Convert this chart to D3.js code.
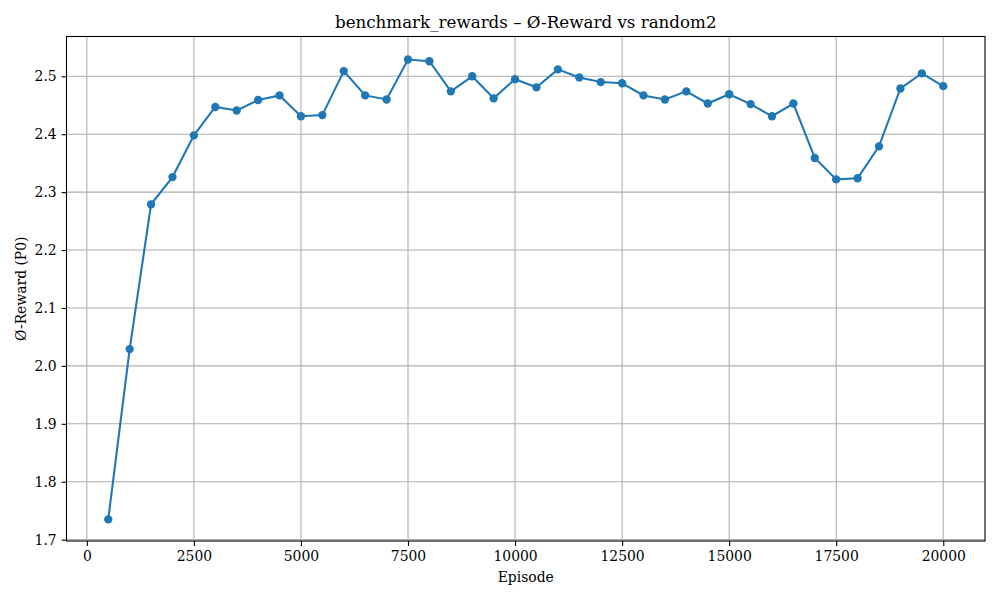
<!DOCTYPE html>
<html>
<head>
<meta charset="utf-8">
<script src="https://cdn.jsdelivr.net/npm/d3@7"></script>
<style>
  body { margin: 0; background: #fff; }
  text { font-family: "DejaVu Serif", serif; fill: #000; }
</style>
</head>
<body>
<svg id="chart" width="1000" height="600"></svg>
<script>
// data
var episodes = [500, 1000, 1500, 2000, 2500, 3000, 3500, 4000, 4500, 5000,
  5500, 6000, 6500, 7000, 7500, 8000, 8500, 9000, 9500, 10000,
  10500, 11000, 11500, 12000, 12500, 13000, 13500, 14000, 14500, 15000,
  15500, 16000, 16500, 17000, 17500, 18000, 18500, 19000, 19500, 20000];
var rewards = [1.735, 2.029, 2.279, 2.326, 2.398, 2.447, 2.441, 2.459, 2.467, 2.431,
  2.433, 2.509, 2.467, 2.460, 2.529, 2.526, 2.474, 2.500, 2.462, 2.495,
  2.481, 2.512, 2.498, 2.490, 2.488, 2.467, 2.460, 2.474, 2.453, 2.469,
  2.452, 2.431, 2.453, 2.359, 2.322, 2.324, 2.379, 2.479, 2.505, 2.483];
var xTicks = [0, 2500, 5000, 7500, 10000, 12500, 15000, 17500, 20000];
var yTicks = [1.7, 1.8, 1.9, 2.0, 2.1, 2.2, 2.3, 2.4, 2.5];

var data = episodes.map(function (e, i) { return { ep: e, r: rewards[i] }; });

var margin = { top: 36.5, right: 15, bottom: 59, left: 66.5 },
  width = 1000 - margin.left - margin.right,
  height = 600 - margin.top - margin.bottom;

var svg = d3.select("#chart")
  .append("g")
  .attr("transform", "translate(" + margin.left + "," + margin.top + ")");

// matplotlib-style 5% padding on x; y limits as in the picture
var xe = d3.extent(episodes), ye = d3.extent(rewards);
var xp = (xe[1] - xe[0]) * 0.05;

var x = d3.scaleLinear().domain([xe[0] - xp, xe[1] + xp]).range([0, width]);
var y = d3.scaleLinear().domain([1.6977, ye[1] + (ye[1] - ye[0]) * 0.05]).range([height, 0]);

// grid
svg.append("g").selectAll("line")
  .data(xTicks).enter().append("line")
  .attr("x1", function (d) { return x(d); })
  .attr("x2", function (d) { return x(d); })
  .attr("y1", 0).attr("y2", height)
  .attr("stroke", "#b0b0b0").attr("stroke-width", 1.1);
svg.append("g").selectAll("line")
  .data(yTicks).enter().append("line")
  .attr("y1", function (d) { return y(d); })
  .attr("y2", function (d) { return y(d); })
  .attr("x1", 0).attr("x2", width)
  .attr("stroke", "#b0b0b0").attr("stroke-width", 1.1);

// axes
var xAxis = svg.append("g")
  .attr("transform", "translate(0," + height + ")")
  .call(d3.axisBottom(x).tickValues(xTicks).tickFormat(d3.format("d")).tickSizeOuter(0).tickSize(4.9).tickPadding(4.9));
var yAxis = svg.append("g")
  .call(d3.axisLeft(y).tickValues(yTicks).tickFormat(d3.format(".1f")).tickSizeOuter(0).tickSize(4.9).tickPadding(4.9));
[xAxis, yAxis].forEach(function (a) {
  a.select(".domain").remove();
  a.selectAll("text").style("font-family", "DejaVu Serif").style("font-size", "13.9px");
  a.selectAll(".tick line").attr("stroke", "#000").attr("stroke-width", 1.1);
});

// frame
svg.append("rect")
  .attr("width", width).attr("height", height)
  .attr("fill", "none").attr("stroke", "#000").attr("stroke-width", 1.1);

// line + markers
var line = d3.line()
  .x(function (d) { return x(d.ep); })
  .y(function (d) { return y(d.r); });

svg.append("path")
  .datum(data)
  .attr("fill", "none")
  .attr("stroke", "#1f77b4")
  .attr("stroke-width", 2.08)
  .attr("d", line);

svg.selectAll("circle")
  .data(data).enter().append("circle")
  .attr("cx", function (d) { return x(d.ep); })
  .attr("cy", function (d) { return y(d.r); })
  .attr("r", 4.17)
  .attr("fill", "#1f77b4");

// labels
svg.append("text")
  .attr("x", width / 2).attr("y", -8.3)
  .attr("text-anchor", "middle")
  .style("font-size", "16.7px")
  .text("benchmark_rewards – Ø-Reward vs random2");

svg.append("text")
  .attr("x", width / 2).attr("y", height + 40.7)
  .attr("text-anchor", "middle")
  .style("font-size", "13.9px")
  .text("Episode");

svg.append("text")
  .attr("transform", "translate(-40.5," + height / 2 + ") rotate(-90)")
  .attr("text-anchor", "middle")
  .style("font-size", "13.9px")
  .text("Ø-Reward (P0)");
</script>
</body>
</html>
